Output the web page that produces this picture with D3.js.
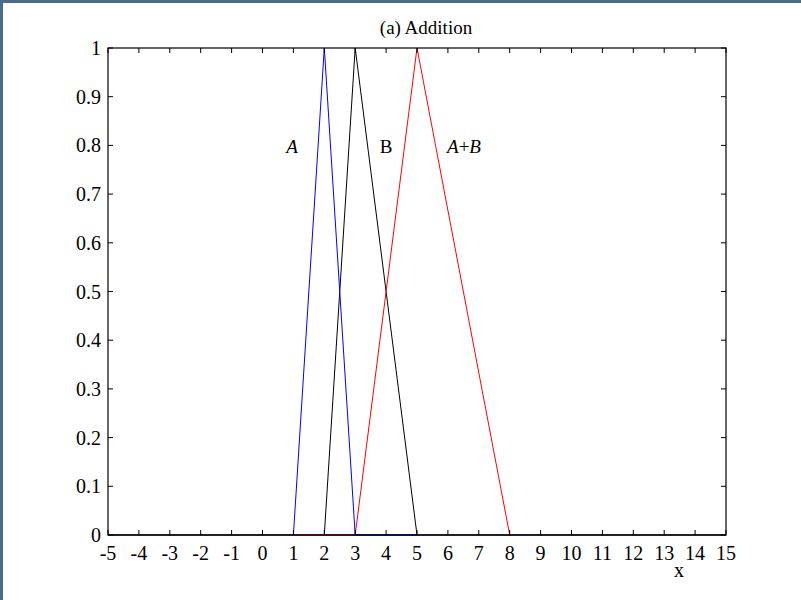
<!DOCTYPE html>
<html>
<head>
<meta charset="utf-8">
<script src="https://cdn.jsdelivr.net/npm/d3@7"></script>
<style>
  body { margin: 0; background: #fff; }
  svg { display: block; font-family: "Liberation Serif", "Times New Roman", serif; }
</style>
</head>
<body>
<svg width="801" height="600"></svg>
<script>
let width = 801, height = 600;
let svg = d3.select("svg");

// fuzzy numbers (triangles), with the bits of baseline each one covers
let seriesA = [[1, 0], [2, 1], [3, 0], [5, 0]];
let seriesB = [[2, 0], [3, 1], [5, 0]];
let seriesAB = [[1, 0], [3, 0], [5, 1], [8, 0]];
let xTicks = d3.range(-5, 16, 1);
let yTicks = d3.range(0, 11, 1).map(d => d / 10);

let margin = { left: 108, right: 75, top: 48, bottom: 65 };

let x = d3.scaleLinear().domain([-5, 15]).range([margin.left, width - margin.right]);
let y = d3.scaleLinear().domain([0, 1]).range([height - margin.bottom, margin.top]);

// window edge strips
svg.append("rect").attr("x", 0).attr("y", 0).attr("width", width).attr("height", 3).attr("fill", "#4d6a86");
svg.append("rect").attr("x", 0).attr("y", 0).attr("width", 3).attr("height", height).attr("fill", "#4d6a86");

// baseline under the curves
svg.append("line")
    .attr("x1", x(-5)).attr("x2", x(15))
    .attr("y1", y(0)).attr("y2", y(0))
    .attr("stroke", "#22104a").attr("stroke-width", 1.5);

let line = d3.line().x(d => x(d[0])).y(d => y(d[1]));

svg.append("path").datum(seriesB).attr("d", line)
    .attr("fill", "none").attr("stroke", "#000").attr("stroke-width", 1);
svg.append("path").datum(seriesAB).attr("d", line)
    .attr("fill", "none").attr("stroke", "#ff0000").attr("stroke-width", 1);
svg.append("path").datum(seriesA).attr("d", line)
    .attr("fill", "none").attr("stroke", "#0000ff").attr("stroke-width", 1);

// box
let g = svg.append("g");
g.append("rect")
    .attr("x", x(-5)).attr("y", y(1))
    .attr("width", x(15) - x(-5)).attr("height", y(0) - y(1))
    .attr("fill", "none").attr("stroke", "#000").attr("stroke-width", 1.2);

// inward ticks
let tl = 5;
g.selectAll(".xtb").data(xTicks).enter().append("line")
    .attr("x1", d => x(d)).attr("x2", d => x(d))
    .attr("y1", y(0)).attr("y2", y(0) - tl)
    .attr("stroke", "#000");
g.selectAll(".xtt").data(xTicks).enter().append("line")
    .attr("x1", d => x(d)).attr("x2", d => x(d))
    .attr("y1", y(1)).attr("y2", y(1) + tl)
    .attr("stroke", "#000");
g.selectAll(".ytl").data(yTicks).enter().append("line")
    .attr("x1", x(-5)).attr("x2", x(-5) + tl)
    .attr("y1", d => y(d)).attr("y2", d => y(d))
    .attr("stroke", "#000");
g.selectAll(".ytr").data(yTicks).enter().append("line")
    .attr("x1", x(15)).attr("x2", x(15) - tl)
    .attr("y1", d => y(d)).attr("y2", d => y(d))
    .attr("stroke", "#000");

// tick labels
g.selectAll(".xl").data(xTicks).enter().append("text")
    .attr("x", d => x(d)).attr("y", y(0) + 25)
    .attr("text-anchor", "middle").attr("font-size", 20)
    .text(d => d);
g.selectAll(".yl").data(yTicks).enter().append("text")
    .attr("x", x(-5) - 7).attr("y", d => y(d) + 7)
    .attr("text-anchor", "end").attr("font-size", 20)
    .text(d => d);

// title and axis label
svg.append("text").attr("x", 426).attr("y", 34)
    .attr("text-anchor", "middle").attr("font-size", 19)
    .text("(a) Addition");
svg.append("text").attr("x", 679).attr("y", 577)
    .attr("text-anchor", "middle").attr("font-size", 20)
    .text("x");

// curve labels
svg.append("text").attr("x", 292).attr("y", 153)
    .attr("text-anchor", "middle").attr("font-size", 19).attr("font-style", "italic")
    .text("A");
svg.append("text").attr("x", 386).attr("y", 153)
    .attr("text-anchor", "middle").attr("font-size", 19)
    .text("B");
let ab = svg.append("text").attr("x", 464).attr("y", 153)
    .attr("text-anchor", "middle").attr("font-size", 19);
ab.append("tspan").attr("font-style", "italic").text("A");
ab.append("tspan").text("+");
ab.append("tspan").attr("font-style", "italic").text("B");
</script>
</body>
</html>
